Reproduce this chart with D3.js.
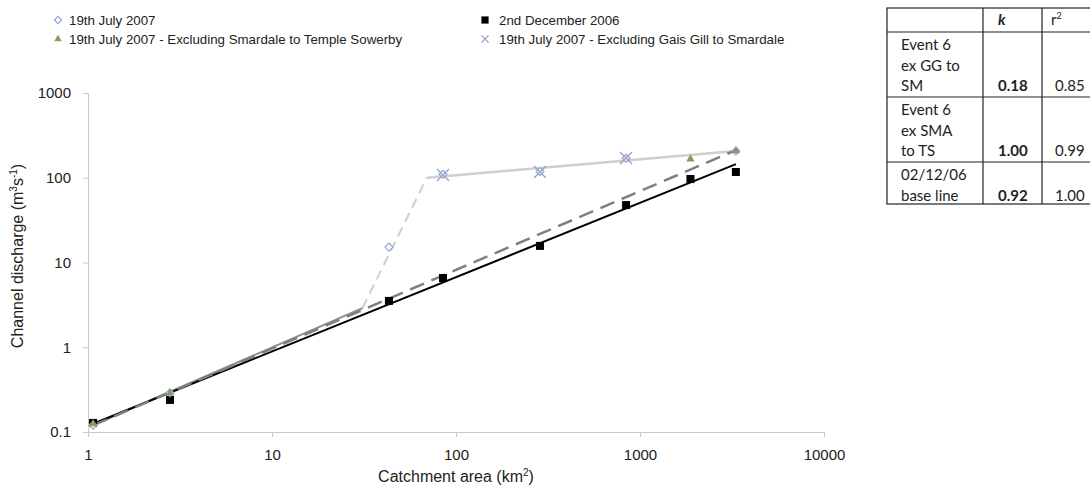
<!DOCTYPE html>
<html>
<head>
<meta charset="utf-8">
<script src="https://cdn.jsdelivr.net/npm/d3@7"></script>
<style>
  body { margin: 0; background: #fff; }
  svg { display: block; font-family: "Liberation Sans", Arial, sans-serif; }
  .axis path, .axis line { stroke: #c8c8c8; }
  .axis text { fill: #222; font-size: 15px; font-family: "Liberation Sans", Arial, sans-serif; }
</style>
</head>
<body>
<svg id="chart" width="1090" height="485"></svg>
<script>
// Data (catchment area km², discharge m³/s)
const julyAll = [[1.065, 0.12], [2.79, 0.29], [43.2, 15.2], [85, 110], [286, 118], [840, 170], [3320, 207]];
const julyExSmaTs = [[1.065, 0.125], [2.79, 0.288], [1880, 166], [3320, 207]];
const dec2006 = [[1.065, 0.128], [2.79, 0.239], [43.2, 3.52], [85, 6.56], [286, 15.7], [840, 47.6], [1880, 96.6], [3320, 117]];
const julyExGgSm = [[85, 108], [286, 117], [840, 171]];

// Trend lines (end points)
const baseFit = [[1.065, 0.125], [3320, 145]];
const exSmaFit = [[1.065, 0.12], [3320, 212]];
const julyLow = [[1.065, 0.12], [31, 2.9]];
const julyRise = [[31, 2.9], [69.5, 100]];
const exGgFit = [[69.5, 100], [3320, 207]];

const xTicks = [1, 10, 100, 1000, 10000];
const yTicks = [0.1, 1, 10, 100, 1000];

const legendItems = [
  { label: "19th July 2007", shape: "diamond", col: 0, row: 0 },
  { label: "19th July 2007 - Excluding Smardale to Temple Sowerby", shape: "triangle", col: 0, row: 1 },
  { label: "2nd December 2006", shape: "square", col: 1, row: 0 },
  { label: "19th July 2007 - Excluding Gais Gill to Smardale", shape: "cross", col: 1, row: 1 }
];

const tableHead = ["", "k", "r²"];
const tableRows = [
  { lines: ["Event 6", "ex GG to", "SM"], k: "0.18", r2: "0.85" },
  { lines: ["Event 6", "ex SMA", "to TS"], k: "1.00", r2: "0.99" },
  { lines: ["02/12/06", "base line"], k: "0.92", r2: "1.00" }
];

const svg = d3.select("#chart");

const x = d3.scaleLog().domain([1, 10000]).range([88, 824]);
const y = d3.scaleLog().domain([0.1, 1000]).range([432, 93]);

// Axes
svg.append("g")
  .attr("class", "axis")
  .attr("transform", "translate(0,432)")
  .call(d3.axisBottom(x).tickValues(xTicks).tickFormat(d3.format("d")).tickSize(5).tickPadding(12));

svg.append("g")
  .attr("class", "axis")
  .attr("transform", "translate(88,0)")
  .call(d3.axisLeft(y).tickValues(yTicks).tickFormat(d => d < 1 ? "0.1" : d3.format("d")(d)).tickSize(5).tickPadding(12));

// Axis titles
svg.append("text")
  .attr("x", 456).attr("y", 482)
  .attr("text-anchor", "middle")
  .attr("font-size", 16).attr("fill", "#222")
  .html('Catchment area (km<tspan font-size="10" dy="-6">2</tspan><tspan dy="6">)</tspan>');

svg.append("text")
  .attr("transform", "translate(23,256) rotate(-90)")
  .attr("text-anchor", "middle")
  .attr("font-size", 16).attr("fill", "#222")
  .html('Channel discharge (m<tspan font-size="10" dy="-6">3</tspan><tspan dy="6">s</tspan><tspan font-size="10" dy="-6">-1</tspan><tspan dy="6">)</tspan>');

// Lines
const line = d3.line().x(d => x(d[0])).y(d => y(d[1]));

svg.append("path").datum(julyRise).attr("d", line)
  .attr("fill", "none").attr("stroke", "#cfcfcf").attr("stroke-width", 2).attr("stroke-dasharray", "10,6");
svg.append("path").datum(exGgFit).attr("d", line)
  .attr("fill", "none").attr("stroke", "#cfcfcf").attr("stroke-width", 2.5);
svg.append("path").datum(julyLow).attr("d", line)
  .attr("fill", "none").attr("stroke", "#8c8c8c").attr("stroke-width", 2);
svg.append("path").datum(baseFit).attr("d", line)
  .attr("fill", "none").attr("stroke", "#000").attr("stroke-width", 2);
svg.append("path").datum(exSmaFit).attr("d", line)
  .attr("fill", "none").attr("stroke", "#7f7f7f").attr("stroke-width", 2.5).attr("stroke-dasharray", "15,8");

// Marker drawing
function marker(g, shape, cx, cy, s = 1) {
  if (shape === "diamond") {
    g.append("path").attr("d", d3.symbol(d3.symbolDiamond2, 40 * s * s)())
      .attr("transform", `translate(${cx},${cy})`)
      .attr("fill", "#fff").attr("stroke", "#8ea6d6").attr("stroke-width", 1.2);
  } else if (shape === "square") {
    const h = 4 * s;
    g.append("rect").attr("x", cx - h).attr("y", cy - h).attr("width", 2 * h).attr("height", 2 * h).attr("fill", "#000");
  } else if (shape === "triangle") {
    g.append("path").attr("d", d3.symbol(d3.symbolTriangle, 30 * s * s)())
      .attr("transform", `translate(${cx},${cy})`)
      .attr("fill", "#8a9a5b");
  } else if (shape === "cross") {
    const h = 6 * s;
    g.append("path").attr("d", `M${cx - h},${cy - h}L${cx + h},${cy + h}M${cx - h},${cy + h}L${cx + h},${cy - h}`)
      .attr("stroke", "#9c9cc9").attr("stroke-width", 1.3);
  }
}

const marks = svg.append("g");
dec2006.forEach(d => marker(marks, "square", x(d[0]), y(d[1])));
julyAll.forEach(d => marker(marks, "diamond", x(d[0]), y(d[1])));
julyExSmaTs.forEach(d => marker(marks, "triangle", x(d[0]), y(d[1])));
julyExGgSm.forEach(d => marker(marks, "cross", x(d[0]), y(d[1])));

// Legend
const legend = svg.append("g");
legendItems.forEach(it => {
  const lx = it.col === 0 ? 58 : 485;
  const ly = it.row === 0 ? 20 : 39;
  marker(legend, it.shape, lx, ly, it.shape === "cross" ? 0.6 : 0.9);
  legend.append("text")
    .attr("x", it.col === 0 ? 69 : 499).attr("y", ly + 4.5)
    .attr("font-size", 13.3).attr("fill", "#222")
    .text(it.label);
});

// Table
const tbl = svg.append("g").attr("font-family", "Lato, 'Open Sans', sans-serif").attr("font-size", 15).attr("fill", "#222");
const colX = [887, 983, 1042, 1092];
const rowY = [8, 32, 97, 162, 204];
const lineH = 20.5;

tbl.append("rect").attr("x", colX[0]).attr("y", rowY[0])
  .attr("width", colX[3] - colX[0]).attr("height", rowY[4] - rowY[0])
  .attr("fill", "none").attr("stroke", "#222").attr("stroke-width", 1.2);
rowY.slice(1, 4).forEach(ry => {
  tbl.append("line").attr("x1", colX[0]).attr("x2", colX[3]).attr("y1", ry).attr("y2", ry)
    .attr("stroke", "#222").attr("stroke-width", 1.2);
});
colX.slice(1, 3).forEach(cx => {
  tbl.append("line").attr("x1", cx).attr("x2", cx).attr("y1", rowY[0]).attr("y2", rowY[4])
    .attr("stroke", "#222").attr("stroke-width", 1.2);
});

tbl.append("text").attr("x", 998).attr("y", 25)
  .attr("font-weight", "bold").attr("font-style", "italic").text(tableHead[1]);
tbl.append("text").attr("x", 1051).attr("y", 25)
  .html('r<tspan font-size="9" dy="-6">2</tspan>');

tableRows.forEach((r, i) => {
  const top = rowY[i + 1];
  r.lines.forEach((t, j) => {
    tbl.append("text").attr("x", 901).attr("y", top + 18 + j * lineH).text(t);
  });
  const by = top + 18 + (r.lines.length - 1) * lineH;
  tbl.append("text").attr("x", 998).attr("y", by).attr("font-weight", "bold").text(r.k);
  tbl.append("text").attr("x", 1055).attr("y", by).text(r.r2);
});
</script>
</body>
</html>
